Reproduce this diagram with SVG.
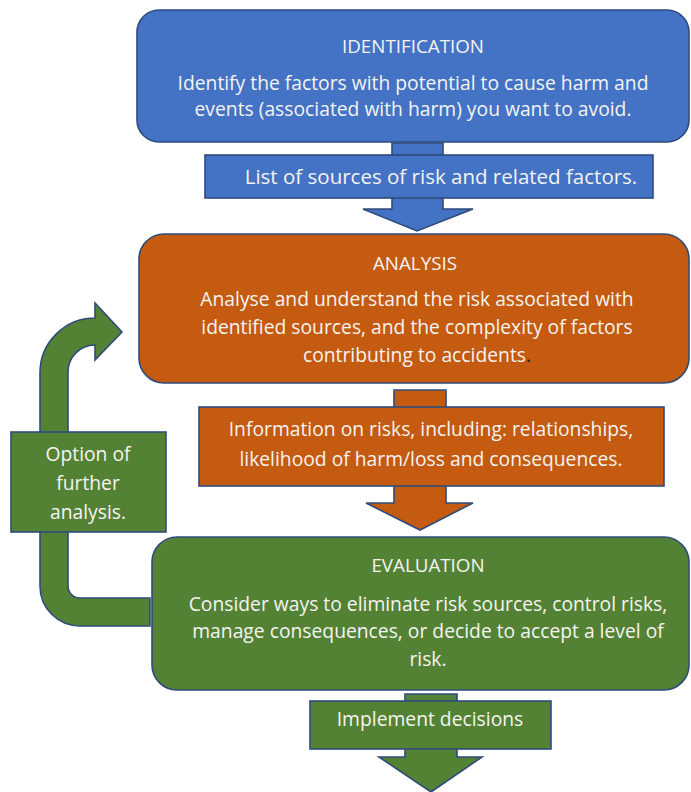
<svg xmlns="http://www.w3.org/2000/svg" width="691" height="792" viewBox="0 0 691 792">
<style>
.s{stroke:#2F4B7C;stroke-width:1.6}
.b{fill:#4472C4}
.o{fill:#C55A11}
.g{fill:#548235}
text{font-family:"Open Sans","Liberation Sans",Arial,sans-serif;fill:#F4F4F0;text-anchor:middle}
.t{font-size:18.8px}
.x{font-size:19.3px}
.l{font-size:20.5px}
</style>
<rect width="691" height="792" fill="#FFFFFF"/>
<g id="connectors">
<path class="s b" d="M392,143 H443 V209 H473 L417,231 L363,209 H392 Z"/>
<path class="s o" d="M394,390 H446 V503 H473 L420,530 L366,503 H394 Z"/>
<path class="s g" d="M405,694 H457 V757 H482 L431,792 L379,757 H405 Z"/>
<path id="loop" class="s g" d="M150,598 H80 A12,12 0 0 1 68,586 V372 A27,27 0 0 1 95,345 V360 L122,332 L95,303 V318 A55,55 0 0 0 40,373 V586 A40,40 0 0 0 80,626 H150 Z"/>
</g>
<g id="identification">
<rect class="s b" x="137" y="10" width="552" height="132" rx="22"/>
<text class="t" x="413" y="53">IDENTIFICATION</text>
<text class="x" x="413" y="90">Identify the factors with potential to cause harm and</text>
<text class="x" x="413" y="116">events (associated with harm) you want to avoid.</text>
</g>
<g id="list">
<rect class="s b" x="205" y="155" width="448" height="43"/>
<text class="l" x="441" y="184">List of sources of risk and related factors.</text>
</g>
<g id="analysis">
<rect class="s o" x="139" y="234" width="550" height="149" rx="25"/>
<text class="t" x="415" y="270">ANALYSIS</text>
<text class="x" x="417" y="306">Analyse and understand the risk associated with</text>
<text class="x" x="417" y="334">identified sources, and the complexity of factors</text>
<text class="x" x="417" y="362">contributing to accidents<tspan fill="#222222">.</tspan></text>
</g>
<g id="information">
<rect class="s o" x="199" y="407" width="465" height="79"/>
<text class="x" x="431" y="436">Information on risks, including: relationships,</text>
<text class="x" x="431" y="466">likelihood of harm/loss and consequences.</text>
</g>
<g id="option">
<rect class="s g" x="11" y="432" width="155" height="100"/>
<text class="x" x="88" y="461">Option of</text>
<text class="x" x="88" y="490">further</text>
<text class="x" x="88" y="519">analysis.</text>
</g>
<g id="evaluation">
<rect class="s g" x="152" y="537" width="537" height="153" rx="25"/>
<text class="t" x="428" y="572">EVALUATION</text>
<text class="x" x="428" y="611">Consider ways to eliminate risk sources, control risks,</text>
<text class="x" x="428" y="638">manage consequences, or decide to accept a level of</text>
<text class="x" x="428" y="666">risk.</text>
</g>
<g id="implement">
<rect class="s g" x="310" y="701" width="241" height="48"/>
<text class="x" x="430" y="726">Implement decisions</text>
</g>
</svg>
